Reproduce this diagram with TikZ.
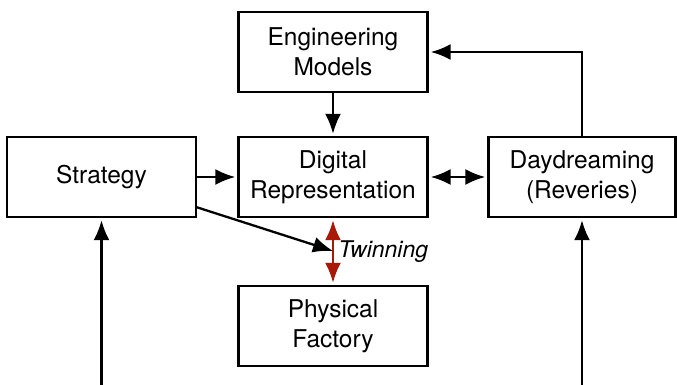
\documentclass[tikz,border=0pt]{standalone}
\usepackage{fontspec}
\setmainfont{TeX Gyre Heros}
\usepackage{tikz}
\usetikzlibrary{arrows.meta}
\definecolor{twinred}{RGB}{170,24,8}

\begin{document}
\begin{tikzpicture}[x=1pt, y=-1pt, >={Latex[length=20pt, width=16pt]}]
\tikzstyle{process} = [rectangle, minimum width=189 pt, minimum height=80 pt, inner sep=0 pt, text centered, draw=black, line width=2.4 pt, font=\fontsize{24.5}{30}\selectfont]
\tikzstyle{flow} = [->, line width=2.3 pt, shorten >=2 pt]
\useasboundingbox (0,0) rectangle (677,385);

\node (E) [process, align=center] at (333,52)  {Engineering\\Models};
\node (S) [process, align=center] at (101.5,177) {Strategy};
\node (D) [process, align=center] at (333,177) {Digital\\Representation};
\node (R) [process, align=center, minimum width=187 pt] at (582,177) {Daydreaming\\(Reveries)};
\node (P) [process, align=center] at (333,326) {Physical\\Factory};

\coordinate (T)  at (333,251);
\coordinate (SS) at (196,207);
\coordinate (SB) at (101.5,385);
\coordinate (RB) at (582,385);

\draw [flow] (E) -- (D);
\draw [flow] (S) -- (D);
\draw [flow, <->, shorten <=2 pt] (D) -- (R);
\draw [flow] (R.north) |- (E.east);
\draw [flow, shorten >=0 pt] (SS) -- (T);
\draw [flow] (SB) -- (S.south);
\draw [flow] (RB) -- (R.south);

\draw [<->, twinred, line width=2.3 pt, shorten >=2 pt, shorten <=2 pt] (D.south) -- node[right=1 pt, black, font=\fontsize{23}{28}\selectfont\itshape] {Twinning} (P.north);

\end{tikzpicture}
\end{document}
